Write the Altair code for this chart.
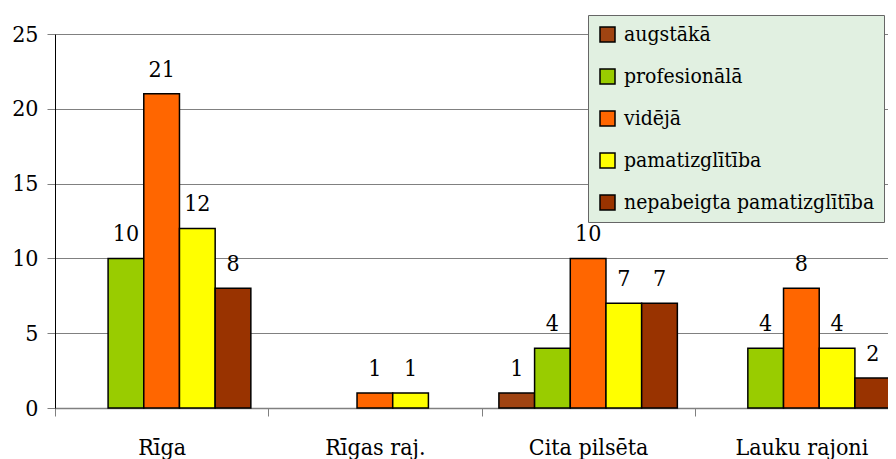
import altair as alt
import pandas as pd

categories = ["Rīga", "Rīgas raj.", "Cita pilsēta", "Lauku rajoni"]
series = ["augstākā", "profesionālā", "vidējā", "pamatizglītība", "nepabeigta pamatizglītība"]
colors = ["#a04412", "#99cc00", "#ff6600", "#ffff00", "#993300"]

augstaka = [0, 0, 1, 0]
profesionala = [10, 0, 4, 4]
videja = [21, 1, 10, 8]
pamatizglitiba = [12, 1, 7, 4]
nepabeigta = [8, 0, 7, 2]

values = [augstaka, profesionala, videja, pamatizglitiba, nepabeigta]
rows = []
for s, vals in zip(series, values):
    for c, v in zip(categories, vals):
        rows.append({"cat": c, "ser": s, "val": v})
df = pd.DataFrame(rows)
df = df[df["val"] > 0]

FONT = "DejaVu Serif Condensed"
FS = 23

x = alt.X("cat:N", sort=categories, title=None,
          scale=alt.Scale(domain=categories, paddingInner=0, paddingOuter=0, range=[0, 853]),
          axis=alt.Axis(labelAngle=0, labelFont=FONT, labelFontSize=FS, labelColor="black",
                        labelBaseline="alphabetic", labelPadding=38, tickSize=8,
                        tickColor="#808080", domainColor="#808080", domainWidth=1.3,
                        tickBand="extent", grid=False))
xoff = alt.XOffset("ser:N", sort=series,
                   scale=alt.Scale(domain=series, paddingInner=0, paddingOuter=0.4875))
y = alt.Y("val:Q", title=None,
          scale=alt.Scale(domain=[0, 25], nice=False),
          axis=alt.Axis(values=[0, 5, 10, 15, 20, 25], labelFont=FONT, labelFontSize=FS,
                        labelColor="black", labelPadding=9, tickSize=8, tickColor="#808080",
                        domainColor="black", grid=True, gridColor="#808080", gridWidth=1.2))

color = alt.Color("ser:N", sort=series,
                  scale=alt.Scale(domain=series, range=colors),
                  legend=alt.Legend(title=None, orient="none", legendX=533, legendY=-19,
                                    fillColor="#e1f0e1", strokeColor="#666666", padding=9,
                                    symbolType="square", symbolSize=225,
                                    symbolStrokeColor="black", symbolStrokeWidth=1.5,
                                    labelFont=FONT, labelFontSize=21, labelColor="black",
                                    labelOffset=6, rowPadding=20, labelLimit=400))

bars = alt.Chart(df).mark_bar(stroke="black", strokeWidth=1.5).encode(
    x=x, xOffset=xoff, y=y, color=color)

text = alt.Chart(df).mark_text(font=FONT, fontSize=FS, color="black",
                               baseline="alphabetic", dy=-17).encode(
    x=alt.X("cat:N", sort=categories), xOffset=alt.XOffset("ser:N", sort=series),
    y="val:Q", text="val:Q")

chart = alt.layer(bars, text).properties(
    width=833, height=374,
    autosize=alt.AutoSizeParams(type="none"),
    padding={"left": 47, "top": 26, "right": 0, "bottom": 52},
).configure(font=FONT).configure_view(stroke=None)

chart.save("out.html", embed_options={"renderer": "svg", "actions": False})
